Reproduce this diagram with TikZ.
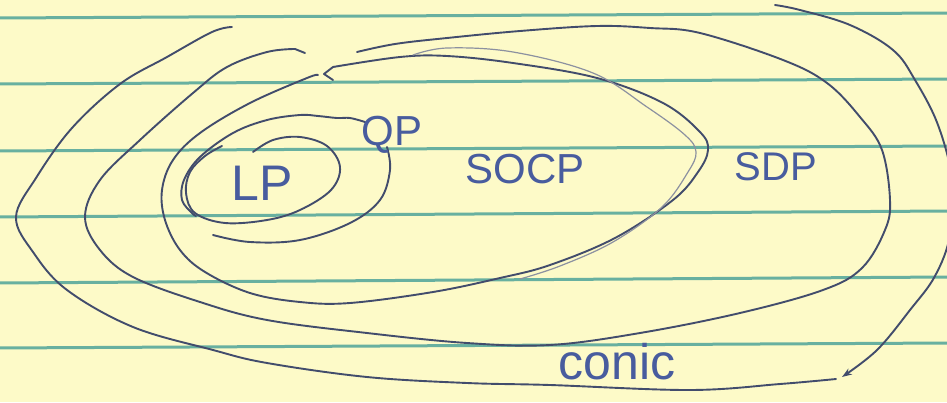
\documentclass[tikz,border=0pt]{standalone}
\usepackage{fontspec}
\setmainfont{Liberation Sans}
\usetikzlibrary{arrows.meta}
\definecolor{paper}{RGB}{253,250,200}
\definecolor{rulec}{RGB}{104,176,160}
\definecolor{ink}{RGB}{66,76,108}
\definecolor{pen}{RGB}{72,92,158}
\definecolor{trace}{RGB}{140,145,160}
\tikzset{
  ruleline/.style={rulec, line width=3pt},
  inkline/.style={ink, line width=1.9pt, line cap=round, line join=round},
  traceline/.style={trace, line width=1.2pt, line cap=round},
  lbl/.style={pen, inner sep=0pt, anchor=base},
}
\begin{document}
\begin{tikzpicture}[x=1pt,y=-1pt]
\useasboundingbox (0,0) rectangle (947,402);
\fill[paper] (0,0) rectangle (947,402);
\clip (0,0) rectangle (947,402);
% ruled lines
\foreach \a/\b in {18/13,84/79,151/146,217/211,283/277,348/343}
  \draw[ruleline] (-2,\a) -- (949,\b);

% outer (conic) spiral
\draw[inkline] plot[smooth, tension=0.6] coordinates {
  (232,27) (212,32) (167,57) (120,84) (72,128) (36,178) (16,217) (33,252)
  (67,290) (133,327) (213,350) (267,363) (367,377) (467,383) (550,385)
  (690,390) (780,384) (836,379)};
% right stroke with arrow
\draw[inkline, -{Stealth[length=10pt,width=7pt]}] plot[smooth, tension=0.6] coordinates {
  (775,5) (800,10) (850,25) (893,50) (915,80) (938,125) (952,180) (950,235)
  (935,276) (910,310) (877,350) (842,377)};

% SDP curve
\draw[inkline] (305,53) -- (295,49);
\draw[inkline] plot[smooth, tension=0.6] coordinates {
  (295,49) (267,52) (227,67) (193,93) (140,140) (100,180) (85,217) (100,250)
  (133,277) (200,302) (267,320) (367,333) (467,343) (550,345) (640,333)
  (740,313) (823,290) (862,268) (885,230) (890,200) (882,150) (860,117)
  (827,83) (783,60) (700,33) (650,28) (597,26) (520,31) (447,38) (395,44) (357,52)};

% SOCP curve
\draw[inkline] (333,80) -- (324,74) -- (333,67);
\draw[inkline] plot[smooth, tension=0.6] coordinates {
  (333,67) (400,57) (447,56) (513,63) (597,78) (663,103) (700,132) (708,150)
  (698,172) (673,200) (615,238) (550,265) (500,278) (433,292) (350,303)
  (300,302) (250,293) (205,272) (180,250) (165,220) (162,190) (173,160)
  (200,133) (250,103) (307,78) (318,75)};
% lighter retrace
\draw[traceline] plot[smooth, tension=0.6] coordinates {
  (413,55) (447,48) (513,52) (593,73) (647,107) (685,135) (696,152)
  (688,172) (662,207) (613,242) (560,266) (520,279)};

% QP curve
\draw[inkline] plot[smooth, tension=0.6] coordinates {
  (213,235) (250,242) (300,240) (350,223) (380,200) (390,170) (387,147)};
\draw[inkline] plot[smooth, tension=0.6] coordinates {
  (365,122) (350,118) (337,118) (318,116) (300,115) (267,120) (233,133)
  (200,157) (184,180) (182,200) (192,213) (196,216)};

% LP curve
\draw[inkline] plot[smooth, tension=0.6] coordinates {
  (253,152) (273,140) (300,137) (327,146) (340,167) (331,190) (300,210)
  (267,220) (225,223) (195,213) (186,193) (190,172) (205,156) (222,146)};

% labels
\node[lbl, font=\fontsize{50}{50}\selectfont] (lp) at (262,200) {LP};
\node[lbl, font=\fontsize{42}{42}\selectfont] (qp) at (392,145) {QP};
\node[lbl, font=\fontsize{42}{42}\selectfont] (socp) at (525,183) {SOCP};
\node[lbl, font=\fontsize{40}{40}\selectfont] (sdp) at (776,180) {SDP};
\node[lbl, font=\fontsize{50}{50}\selectfont] (conic) at (617,379) {conic};
\end{tikzpicture}
\end{document}
